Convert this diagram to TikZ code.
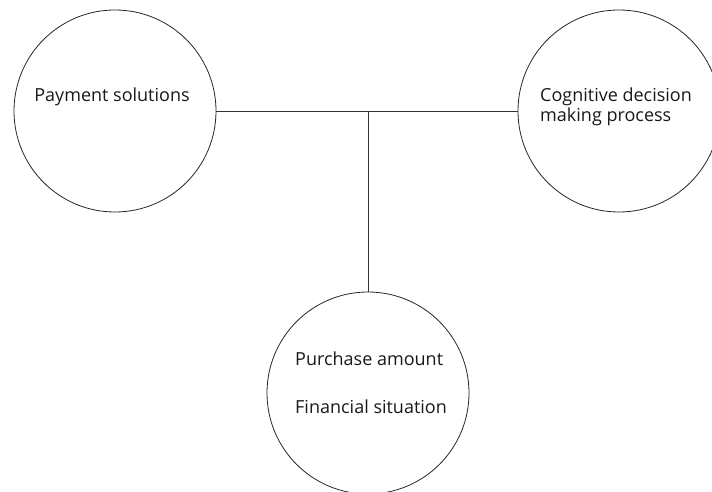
\documentclass[tikz,border=0pt]{standalone}
\usepackage{fontspec}
\setmainfont{Open Sans}
\usepackage{tikz}

\tikzset{
  bubble/.style = {circle, draw=black!85, line width=0.8pt, minimum size=202pt, inner sep=0pt},
  bubbletext/.style = {font=\fontsize{18}{20}\selectfont, text=black!90, inner sep=0pt},
  link/.style = {draw=black!80, line width=0.8pt}
}

\begin{document}
\begin{tikzpicture}[x = 1pt, y = -1pt]
        \useasboundingbox (0,0) rectangle (712,492);
        \node[bubble] (pay) at (115,111) {};
        \node[bubble] (cog) at (619,111) {};
        \node[bubble] (pur) at (368,393) {};
        \node[bubbletext] (paytext) at (112,97) {Payment solutions};
        \node[bubbletext, align=left, anchor=west] (cogtext) at (540,107)
             {Cognitive decision\\making process};
        \node[bubbletext, anchor=west] (purtext) at (295,359) {Purchase amount};
        \node[bubbletext, anchor=west] (fintext) at (295,407) {Financial situation};
        \draw[link] (pay.east) -- (cog.west);
        \draw[link] (pur.north) -- (pur.north |- pay.east);
      \end{tikzpicture}
\end{document}
